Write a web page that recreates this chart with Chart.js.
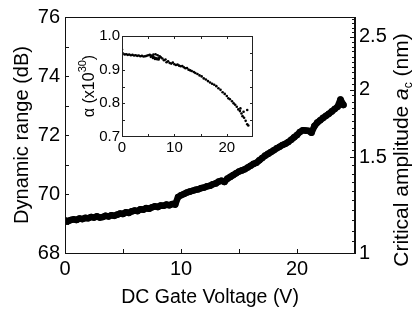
<!DOCTYPE html>
<html>
<head>
<meta charset="utf-8">
<script src="https://cdn.jsdelivr.net/npm/chart.js@4.4.1/dist/chart.umd.min.js"></script>
<style>
  html, body { margin: 0; padding: 0; background: #fff; }
  #wrap { position: relative; width: 419px; height: 312px; }
  #wrap canvas { position: absolute; left: 0; top: 0; }
</style>
</head>
<body>
<div id="wrap">
  <canvas id="mainChart" width="419" height="312"></canvas>
  <canvas id="insetChart" width="419" height="312"></canvas>
</div>
<script>
// main curve: dynamic range vs DC gate voltage
const gateVoltage = [
  0.00, 0.25, 0.50, 0.75, 1.00, 1.25, 1.50, 1.75, 2.00, 2.25, 2.50, 2.75,
  3.00, 3.25, 3.50, 3.75, 4.00, 4.25, 4.50, 4.75, 5.00, 5.25, 5.50, 5.75,
  6.00, 6.25, 6.50, 6.75, 7.00, 7.25, 7.50, 7.75, 8.00, 8.25, 8.50, 8.75,
  9.00, 9.25, 9.50, 9.75, 10.00, 10.25, 10.50, 10.75, 11.00, 11.25, 11.50, 11.75,
  12.00, 12.25, 12.50, 12.75, 13.00, 13.25, 13.50, 13.75, 14.00, 14.25, 14.50, 14.75,
  15.00, 15.25, 15.50, 15.75, 16.00, 16.25, 16.50, 16.75, 17.00, 17.25, 17.50, 17.75,
  18.00, 18.25, 18.50, 18.75, 19.00, 19.25, 19.50, 19.75, 20.00, 20.25, 20.50, 20.75,
  21.00, 21.25, 21.50, 21.75, 22.00, 22.25, 22.50, 22.75, 23.00, 23.25, 23.50, 23.75,
  24.00
];
const dynamicRange = [
  69.10, 69.08, 69.12, 69.14, 69.12, 69.17, 69.15, 69.19, 69.18, 69.22, 69.20, 69.24,
  69.20, 69.22, 69.26, 69.24, 69.28, 69.26, 69.30, 69.34, 69.32, 69.38, 69.36, 69.41,
  69.44, 69.42, 69.48, 69.47, 69.52, 69.50, 69.55, 69.58, 69.56, 69.61, 69.60, 69.64,
  69.62, 69.66, 69.64, 69.90, 69.96, 70.00, 70.05, 70.08, 70.11, 70.14, 70.16, 70.20,
  70.22, 70.26, 70.28, 70.33, 70.36, 70.42, 70.45, 70.41, 70.52, 70.58, 70.64, 70.70,
  70.76, 70.80, 70.84, 70.90, 70.96, 71.02, 71.06, 71.14, 71.22, 71.30, 71.36, 71.42,
  71.48, 71.55, 71.60, 71.66, 71.70, 71.76, 71.84, 71.92, 72.00, 72.10, 72.16, 72.15,
  72.14, 72.08, 72.30, 72.42, 72.50, 72.58, 72.65, 72.72, 72.80, 72.88, 72.96, 73.20,
  73.02
];

// inset: alpha vs DC gate voltage
const insetVoltage = [
  0.0, 0.2, 0.5, 0.8, 1.1, 1.4, 1.7, 2.0, 2.3, 2.6, 2.9, 3.2, 3.5, 3.8, 4.1, 4.4, 4.7,
  5.0, 5.3, 5.6, 5.9, 6.2, 6.5, 6.8, 7.1, 7.4,
  5.5, 5.9, 6.3, 6.7, 7.0, 6.0, 6.4, 6.8, 7.2,
  7.7, 8.0, 8.3, 8.5, 8.8, 9.1, 9.4, 9.7, 10.0, 10.3, 10.6, 10.9, 11.2, 11.5, 11.8,
  12.1, 12.4, 12.7, 13.0, 13.3, 13.7, 14.0, 14.4, 14.8, 15.2, 15.6, 16.0, 16.4, 16.8,
  17.2, 17.6, 18.0, 18.4, 18.8, 19.2, 19.6, 20.0, 20.3, 20.6, 21.0, 21.3, 21.6, 21.9,
  22.2, 22.5, 22.8, 23.0, 23.3, 23.6, 23.9, 24.1, 23.9, 23.2, 22.6
];
const insetAlpha = [
  0.960, 0.948, 0.945, 0.946, 0.944, 0.945, 0.943, 0.944, 0.942, 0.943, 0.941, 0.942, 0.940, 0.941, 0.939, 0.940, 0.941,
  0.943, 0.944, 0.942, 0.940, 0.936, 0.934, 0.933, 0.935, 0.937,
  0.938, 0.935, 0.932, 0.931, 0.930, 0.945, 0.946, 0.943, 0.940,
  0.933, 0.928, 0.930, 0.922, 0.925, 0.920, 0.918, 0.921, 0.916, 0.914, 0.915, 0.912, 0.910, 0.911, 0.907,
  0.904, 0.905, 0.900, 0.898, 0.896, 0.893, 0.890, 0.887, 0.883, 0.880, 0.874, 0.871, 0.866, 0.862,
  0.858, 0.855, 0.851, 0.845, 0.840, 0.833, 0.828, 0.822, 0.815, 0.812, 0.806, 0.800, 0.796, 0.790,
  0.782, 0.777, 0.770, 0.762, 0.757, 0.748, 0.738, 0.734, 0.780, 0.775, 0.785
];

const rightTickLabels = [1, 1.5, 2, 2.5];
const mainMinorX = [0, 5, 10, 15, 20, 25];
const mainMinorY = [68, 69, 70, 71, 72, 73, 74, 75, 76];
const insetMinorX = [5, 10, 15, 20];
const insetMinorY = [0.75, 0.8, 0.85, 0.9, 0.95];

const FONT = "'Liberation Sans', Arial, Helvetica, sans-serif";
Chart.defaults.font.family = FONT;
Chart.defaults.color = '#000';

// draws rotated text made of pieces (for sub/superscripts)
const drawRotated = (ctx, cx, cy, parts) => {
  ctx.save();
  ctx.translate(cx, cy);
  ctx.rotate(-Math.PI / 2);
  ctx.fillStyle = '#000';
  ctx.textBaseline = 'middle';
  let total = 0;
  parts.forEach(p => { ctx.font = p.f; total += ctx.measureText(p.t).width; });
  let x = -total / 2;
  parts.forEach(p => {
    ctx.font = p.f;
    ctx.fillText(p.t, x, p.dy);
    x += ctx.measureText(p.t).width;
  });
  ctx.restore();
};

// inward tick marks and a closed box around the plot area
const mainFrame = {
  id: 'mainFrame',
  afterDraw(chart) {
    const { ctx, chartArea: a, scales } = chart;
    ctx.save();
    ctx.strokeStyle = '#111';
    ctx.lineWidth = 1;
    ctx.strokeRect(a.left + 0.5, a.top + 0.5, a.right - a.left - 1, a.bottom - a.top);
    ctx.beginPath();
    mainMinorX.forEach(v => {
      const x = Math.round(scales.x.getPixelForValue(v)) + 0.5;
      ctx.moveTo(x, a.bottom); ctx.lineTo(x, a.bottom - 4);
    });
    mainMinorY.forEach(v => {
      const y = Math.round(scales.y.getPixelForValue(v)) + 0.5;
      ctx.moveTo(a.left, y); ctx.lineTo(a.left + 4, y);
    });
    for (let k = 20; k <= 54; k++) {
      const v = k / 20;
      const y = Math.round(scales.y1.getPixelForValue(v)) + 0.5;
      const len = rightTickLabels.includes(v) ? 5 : 3;
      ctx.moveTo(a.right, y); ctx.lineTo(a.right - len, y);
    }
    ctx.stroke();
    ctx.restore();

    drawRotated(ctx, 402, 150, [
      { t: 'Critical amplitude ', f: '21px ' + FONT, dy: 0 },
      { t: 'a', f: 'italic 21px ' + FONT, dy: 0 },
      { t: 'c', f: '12px ' + FONT, dy: 7 },
      { t: ' (nm)', f: '21px ' + FONT, dy: 0 }
    ]);
  }
};

const insetFrame = {
  id: 'insetFrame',
  beforeDraw(chart) {
    const { ctx, chartArea: a } = chart;
    ctx.save();
    ctx.fillStyle = '#fff';
    ctx.fillRect(a.left, a.top, a.right - a.left, a.bottom - a.top);
    ctx.restore();
  },
  afterDraw(chart) {
    const { ctx, chartArea: a, scales } = chart;
    ctx.save();
    ctx.strokeStyle = '#222';
    ctx.lineWidth = 1;
    ctx.strokeRect(a.left + 0.5, a.top + 0.5, a.right - a.left - 1, a.bottom - a.top - 1);
    ctx.beginPath();
    insetMinorX.forEach(v => {
      const x = Math.round(scales.x.getPixelForValue(v)) + 0.5;
      ctx.moveTo(x, a.bottom); ctx.lineTo(x, a.bottom - 3);
      ctx.moveTo(x, a.top); ctx.lineTo(x, a.top + 3);
    });
    insetMinorY.forEach(v => {
      const y = Math.round(scales.y.getPixelForValue(v)) + 0.5;
      ctx.moveTo(a.left, y); ctx.lineTo(a.left + 3, y);
      ctx.moveTo(a.right, y); ctx.lineTo(a.right - 3, y);
    });
    ctx.stroke();
    ctx.restore();

    drawRotated(ctx, 90, 86, [
      { t: 'α (x10', f: '16px ' + FONT, dy: 0 },
      { t: '30', f: '11px ' + FONT, dy: -7 },
      { t: ')', f: '16px ' + FONT, dy: 0 }
    ]);
  }
};

new Chart(document.getElementById('mainChart'), {
  type: 'line',
  data: {
    datasets: [{
      data: gateVoltage.map((v, i) => ({ x: v, y: dynamicRange[i] })),
      borderColor: '#000',
      backgroundColor: '#000',
      borderWidth: 6.5,
      borderJoinStyle: 'round',
      borderCapStyle: 'round',
      pointRadius: 3.3,
      pointBorderWidth: 0,
      pointHoverRadius: 0,
      tension: 0,
      yAxisID: 'y'
    }]
  },
  options: {
    responsive: false,
    animation: false,
    events: [],
    layout: { padding: { top: 16, left: 0, right: 0, bottom: 0 } },
    plugins: { legend: { display: false }, tooltip: { enabled: false } },
    scales: {
      x: {
        type: 'linear', min: 0, max: 25,
        grid: { display: false, drawTicks: false },
        border: { display: true, color: '#111' },
        ticks: { stepSize: 10, includeBounds: false, maxRotation: 0, padding: 4, font: { size: 20 } },
        title: { display: true, text: 'DC Gate Voltage (V)', font: { size: 19.5 }, padding: { top: 0, bottom: 3 } },
        afterFit: s => { s.height = 59; }
      },
      y: {
        position: 'left', min: 68, max: 76,
        grid: { display: false, drawTicks: false },
        border: { display: true, color: '#111' },
        ticks: { stepSize: 2, padding: 5, font: { size: 20 } },
        title: { display: true, text: 'Dynamic range (dB)', font: { size: 20 }, padding: { top: 10, bottom: 0 } },
        afterFit: s => { s.width = 65; }
      },
      y1: {
        type: 'logarithmic', position: 'right', min: 1, max: 2.72,
        grid: { display: false, drawTicks: false },
        border: { display: true, color: '#111' },
        ticks: { padding: 4, font: { size: 20 }, callback: v => String(v) },
        afterBuildTicks: s => { s.ticks = rightTickLabels.map(v => ({ value: v })); },
        afterFit: s => { s.width = 64; }
      }
    }
  },
  plugins: [mainFrame]
});

new Chart(document.getElementById('insetChart'), {
  type: 'scatter',
  data: {
    datasets: [{
      data: insetVoltage.map((v, i) => ({ x: v, y: insetAlpha[i] })),
      backgroundColor: '#000',
      borderWidth: 0,
      pointRadius: 1.3,
      pointHoverRadius: 0
    }]
  },
  options: {
    responsive: false,
    animation: false,
    events: [],
    layout: { padding: { top: 36, left: 122 - 32, right: 419 - 253, bottom: 312 - 137 - 22 } },
    plugins: { legend: { display: false }, tooltip: { enabled: false } },
    scales: {
      x: {
        type: 'linear', min: 0, max: 25,
        grid: { display: false, drawTicks: false },
        border: { display: false },
        ticks: { stepSize: 10, includeBounds: false, maxRotation: 0, padding: 2, font: { size: 15 } },
        afterFit: s => { s.height = 22; }
      },
      y: {
        type: 'linear', min: 0.7, max: 1.0,
        grid: { display: false, drawTicks: false },
        border: { display: false },
        ticks: { stepSize: 0.1, padding: 2, font: { size: 15 }, callback: v => v.toFixed(1) },
        afterFit: s => { s.width = 32; }
      }
    }
  },
  plugins: [insetFrame]
});
</script>
</body>
</html>
